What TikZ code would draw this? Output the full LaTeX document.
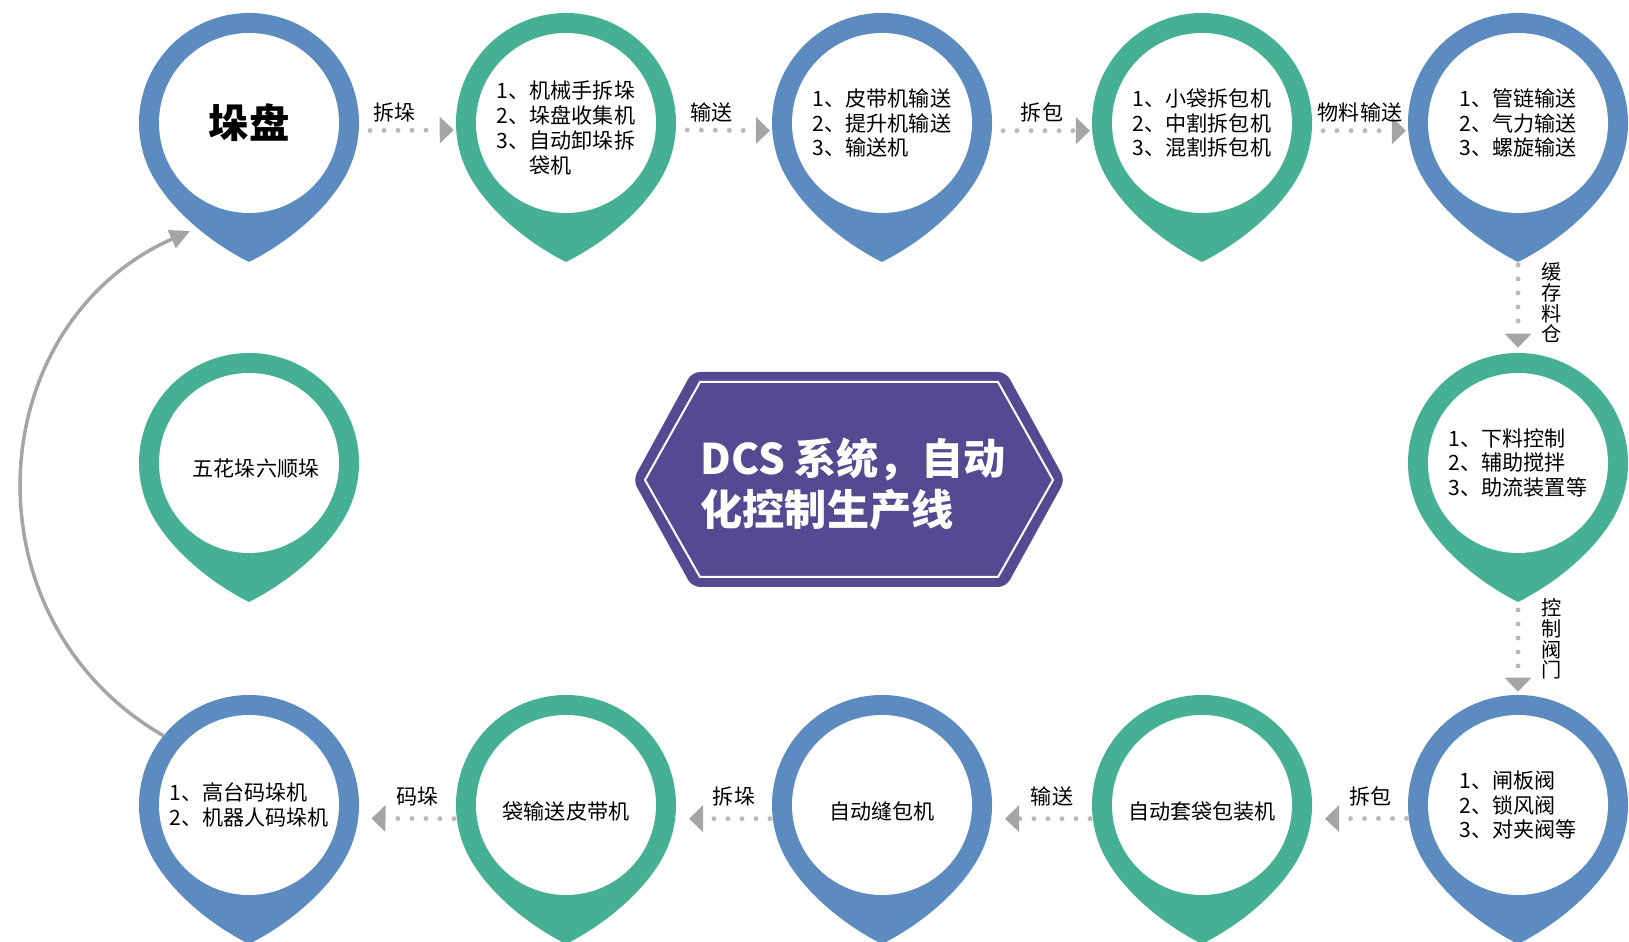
\documentclass[tikz,border=0pt]{standalone}
\usepackage{fontspec}
\setmainfont{Noto Sans CJK SC}
\usetikzlibrary{arrows.meta}
\definecolor{pinblue}{HTML}{5C8BC0}
\definecolor{pingreen}{HTML}{46B094}
\definecolor{dcspurple}{HTML}{554A91}
\definecolor{dotgray}{HTML}{BABABA}
\definecolor{tipgray}{HTML}{A5A5A5}
\newcommand{\pinmark}[4]{%
  \begin{scope}[shift={(#3,#4)}]
    \fill[#2] (-30:110) arc[start angle=-30, end angle=210, radius=110]
      .. controls (-75,-90) and (-36,-121) .. (0,-139)
      .. controls (36,-121) and (75,-90) .. cycle;
    \fill[white] (0,0) circle[radius=90];
    \coordinate (#1_tip) at (0,-139);
  \end{scope}}
\begin{document}
\begin{tikzpicture}[x=0.02cm, y=0.02cm,
  hub/.style={circle, minimum size=4.4cm, inner sep=0pt, align=left,
    font=\fontsize{12}{14.2}\selectfont},
  flow/.style={draw=dotgray, line width=0.1cm, line cap=round,
    dash pattern=on 0pt off 0.28cm, shorten <=0.22cm, shorten >=0.04cm,
    -{Triangle[length=0.28cm, width=0.54cm, color=tipgray, line width=0pt]}},
  flowb/.style={flow, shorten <=0.04cm, shorten >=0.26cm},
  tag/.style={above, font=\fontsize{12}{14.2}\selectfont},
  tagb/.style={tag, above=0.08cm, xshift=0.2cm},
  vtag/.style={right=0.42cm, inner sep=0pt, align=center,
    font=\fontsize{11.5}{11.8}\selectfont},
  headline/.style={align=left, text=white,
    font=\bfseries\fontsize{24}{29.5}\selectfont},
  loopback/.style={draw=tipgray, line width=0.07cm,
    -{Triangle[length=0.4cm, width=0.38cm]}}]
\useasboundingbox (0,0) rectangle (1629,942);
\pinmark{P_0_0}{pinblue}{249}{819}
\pinmark{P_0_1}{pingreen}{566}{819}
\pinmark{P_0_2}{pinblue}{882}{819}
\pinmark{P_0_3}{pingreen}{1202}{819}
\pinmark{P_0_4}{pinblue}{1518}{819}
\pinmark{P_1_0}{pingreen}{249}{479}
\pinmark{P_1_4}{pingreen}{1518}{479}
\pinmark{P_2_0}{pinblue}{249}{137}
\pinmark{P_2_1}{pingreen}{566}{137}
\pinmark{P_2_2}{pinblue}{882}{137}
\pinmark{P_2_3}{pingreen}{1202}{137}
\pinmark{P_2_4}{pinblue}{1518}{137}
\node[hub, font=\bfseries\fontsize{23}{28}\selectfont] (P_0_0) at (249,819) {垛盘};
\node[hub] (P_0_1) at (566,814) {1、机械手拆垛\\2、垛盘收集机\\3、自动卸垛拆\\\phantom{3、}袋机};
\node[hub] (P_0_2) at (882,819) {1、皮带机输送\\2、提升机输送\\3、输送机};
\node[hub] (P_0_3) at (1202,819) {1、小袋拆包机\\2、中割拆包机\\3、混割拆包机};
\node[hub] (P_0_4) at (1518,819) {1、管链输送\\2、气力输送\\3、螺旋输送};
\node[hub] (P_1_0) at (256,473) {五花垛六顺垛};
\node[hub] (P_1_4) at (1518,479) {1、下料控制\\2、辅助搅拌\\3、助流装置等};
\node[hub] (P_2_0) at (249,137) {1、高台码垛机\\2、机器人码垛机};
\node[hub] (P_2_1) at (566,131) {袋输送皮带机};
\node[hub] (P_2_2) at (882,131) {自动缝包机};
\node[hub] (P_2_3) at (1202,131) {自动套袋包装机};
\node[hub] (P_2_4) at (1518,137) {1、闸板阀\\2、锁风阀\\3、对夹阀等};
\draw[flow] (P_0_0.356) -- (P_0_1.181) node[midway, tag, xshift=-0.25cm] {拆垛};
\draw[flow] (P_0_1.359) -- (P_0_2.184) node[midway, tag, xshift=-0.25cm] {输送};
\draw[flow] (P_0_2.356) -- (P_0_3.184) node[midway, tag] {拆包};
\draw[flow] (P_0_3.356) -- (P_0_4.184) node[midway, tag] {物料输送};
\draw[flow, shorten <=0.06cm, shorten >=0.1cm] (P_0_4_tip) -- (P_1_4.north) node[pos=0.45, vtag] {缓\\存\\料\\仓};
\draw[flow, shorten <=0.16cm, shorten >=0.06cm] (P_1_4_tip) -- (P_2_4.north) node[pos=0.4, vtag] {控\\制\\阀\\门};
\draw[flowb] (P_2_4.187) -- (P_2_3.356) node[midway, tagb] {拆包};
\draw[flowb] (P_2_3.184) -- (P_2_2.356) node[midway, tagb] {输送};
\draw[flowb] (P_2_2.184) -- (P_2_1.356) node[midway, tagb] {拆垛};
\draw[flowb] (P_2_1.184) -- (P_2_0.353) node[midway, tagb] {码垛};
\fill[dcspurple, rounded corners=0.16cm] (633,462) -- (692,570) -- (1006,570) -- (1065,462) -- (1006,355) -- (692,355) -- cycle;
\draw[white, line width=0.04cm] (645,462) -- (700,560) -- (998,560) -- (1053,462) -- (998,365) -- (700,365) -- cycle;
\node[headline] (DCS) at (853,458) {DCS 系统，自动\\化控制生产线};
\coordinate (P_0_0_back) at (190,711);
\draw[loopback] (P_2_0.141) to[out=150, in=204, looseness=1.17] (P_0_0_back);
\end{tikzpicture}
\end{document}
